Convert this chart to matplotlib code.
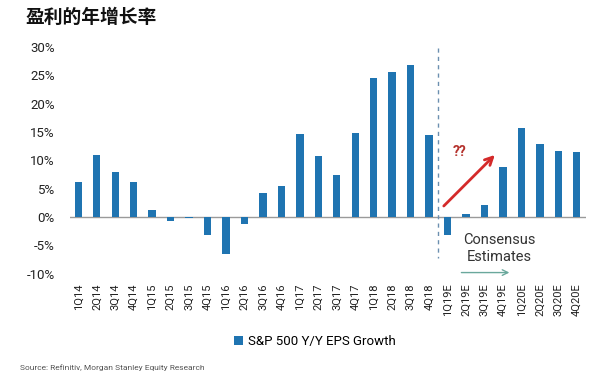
import matplotlib
matplotlib.use("Agg")
import matplotlib.pyplot as plt
import numpy as np

plt.rcParams['font.family'] = ['Roboto', 'Noto Sans CJK SC', 'DejaVu Sans']

quarters = ["1Q14", "2Q14", "3Q14", "4Q14", "1Q15", "2Q15", "3Q15", "4Q15",
            "1Q16", "2Q16", "3Q16", "4Q16", "1Q17", "2Q17", "3Q17", "4Q17",
            "1Q18", "2Q18", "3Q18", "4Q18", "1Q19E", "2Q19E", "3Q19E", "4Q19E",
            "1Q20E", "2Q20E", "3Q20E", "4Q20E"]
eps_growth = [6.2, 10.9, 7.9, 6.2, 1.3, -0.7, -0.2, -3.1,
              -6.6, -1.3, 4.3, 5.5, 14.7, 10.7, 7.5, 14.8,
              24.6, 25.6, 26.9, 14.4, -3.2, 0.6, 2.1, 8.8,
              15.7, 12.9, 11.7, 11.4]
yticks = [-10, -5, 0, 5, 10, 15, 20, 25, 30]
ytick_labels = ["-10%", "-5%", "0%", "5%", "10%", "15%", "20%", "25%", "30%"]

title = "盈利的年增长率"
series_name = "S&P 500 Y/Y EPS Growth"
source = "Source: Refinitiv, Morgan Stanley Equity Research"

bar_color = "#1f74b1"

fig = plt.figure(figsize=(6.0, 3.77), dpi=100)
ax = fig.add_axes([70/600, 1 - 273.7/377, 516/600, (273.7 - 47)/377])

x = np.arange(len(quarters))
bars = ax.bar(x, eps_growth, width=0.4, color=bar_color, label=series_name, zorder=2)

ax.set_xlim(-0.45, 27.5)
ax.set_ylim(-10, 30)
ax.set_yticks(yticks)
ax.set_yticklabels(ytick_labels, fontsize=9.5, color="#222222")
ax.set_xticks(x)
ax.set_xticklabels(quarters, rotation=90, fontsize=8, color="#222222")
ax.tick_params(axis='y', length=0, pad=11)
ax.tick_params(axis='x', length=0, pad=7)
for s in ax.spines.values():
    s.set_visible(False)
ax.axhline(0, color="#9a9a9a", lw=1, zorder=1)

# forecast divider
ax.plot([19.5, 19.5], [29.8, -7.3], color="#6b8fb0", lw=1, ls=(0, (3, 3)), zorder=3)

# red arrow and ??
ax.annotate("", xy=(22.67, 11.3), xytext=(19.69, 1.6),
            arrowprops=dict(arrowstyle="->", color="#d42a2a", lw=2, mutation_scale=14))
ax.text(20.66, 11.5, "??", color="#b5332e", fontsize=10, fontweight="bold",
        ha="center", va="center")

# consensus estimates
ax.text(22.8, -5.5, "Consensus\nEstimates", fontsize=10.5, color="#333333",
        ha="center", va="center", linespacing=1.25)
ax.annotate("", xy=(23.5, -9.8), xytext=(20.6, -9.8),
            arrowprops=dict(arrowstyle="->", color="#6aa89c", lw=1, mutation_scale=10),
            annotation_clip=False)

fig.text(25/600, 1 - 17/377, title, fontsize=13.5, fontweight="bold",
         family=['Noto Sans CJK SC', 'DejaVu Sans'], ha="left", va="center", color="#111111")

leg = fig.legend(handles=[bars], labels=[series_name], loc="center",
                 bbox_to_anchor=(315/600, 1 - 341.7/377), frameon=False,
                 fontsize=9.5, handlelength=0.7, handleheight=0.7, handletextpad=0.4)

fig.text(20/600, 1 - 368/377, source, fontsize=6, color="#555555", ha="left", va="center")

fig.savefig("out.png", dpi=100)
